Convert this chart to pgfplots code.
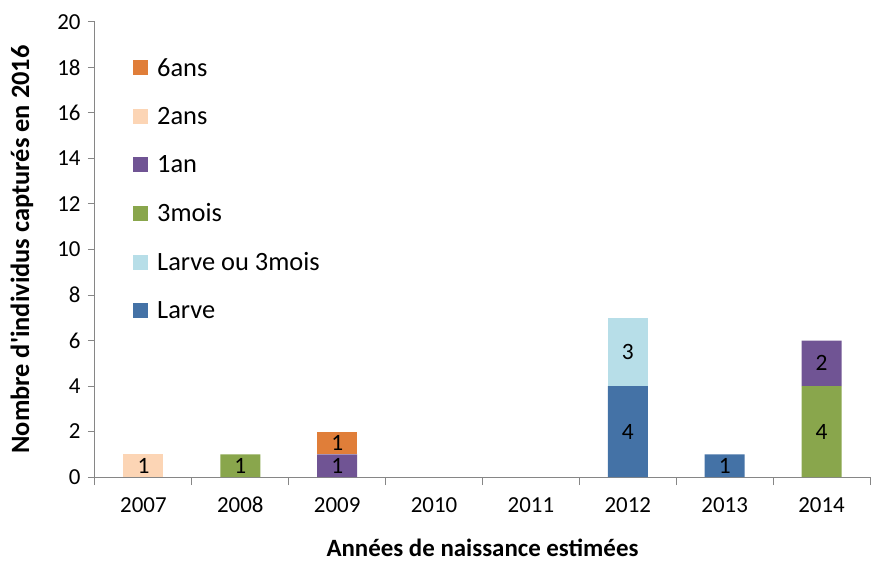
\documentclass[border=0pt]{standalone}
\usepackage{fontspec}
\setmainfont{Carlito}
\usepackage{pgfplots}
\pgfplotsset{compat=1.18}
\definecolor{cLarve}{RGB}{68,114,166}
\definecolor{cLarveou}{RGB}{183,222,232}
\definecolor{cTrois}{RGB}{137,166,76}
\definecolor{cUn}{RGB}{112,84,148}
\definecolor{cDeux}{RGB}{252,213,181}
\definecolor{cSix}{RGB}{224,126,57}
\definecolor{axisgray}{RGB}{134,134,134}
\begin{document}
\begin{tikzpicture}[font=\fontsize{23}{27}\selectfont]
\begin{axis}[
  name=ax, scale only axis, width=775bp, height=455bp,
  ybar stacked, bar width=40bp,
  xmin=-0.5, xmax=7.5, ymin=0, ymax=20,
  xtick={0,...,7}, xticklabels={2007,2008,2009,2010,2011,2012,2013,2014},
  major x tick style={draw=none},
  minor xtick={-0.5,0.5,1.5,2.5,3.5,4.5,5.5,6.5,7.5},
  ytick={0,2,...,20},
  axis lines=left,
  axis line style={-, draw=axisgray, line width=1bp},
  tick style={draw=axisgray, line width=1bp},
  tick align=outside,
  major tick length=7bp, minor tick length=8bp,
  /pgf/number format/assume math mode=true,
  tick label style={font=\fontsize{23}{27}\selectfont},
  xticklabel style={anchor=base, yshift=-28bp},
  yticklabel style={xshift=-4bp},
  ylabel={\bfseries Nombre d\textquotesingle individus capturés en 2016},
  ylabel style={at={([xshift=-73bp]rel axis cs:0,0.5)}, anchor=center, font=\fontsize{26.5}{30}\selectfont},
  xlabel={\bfseries Années de naissance estimées},
  xlabel style={at={([yshift=-71bp]rel axis cs:0.5,0)}, anchor=center, font=\fontsize{25}{29}\selectfont},
  legend style={draw=none, fill=none, inner sep=0pt, at={(rel axis cs:0.049,0.925)}, anchor=north west, row sep=25.5bp, font=\fontsize{26.5}{31}\selectfont},
  legend cell align=left,
  reverse legend,
  legend image code/.code={\fill[#1] (0bp,-7.5bp) rectangle (15bp,7.5bp); \path (22bp,0bp);},
]
\addplot[fill=cLarve, draw=none] coordinates {(0,0) (1,0) (2,0) (3,0) (4,0) (5,4) (6,1) (7,0)};
\addplot[fill=cLarveou, draw=none] coordinates {(0,0) (1,0) (2,0) (3,0) (4,0) (5,3) (6,0) (7,0)};
\addplot[fill=cTrois, draw=none] coordinates {(0,0) (1,1) (2,0) (3,0) (4,0) (5,0) (6,0) (7,4)};
\addplot[fill=cUn, draw=none] coordinates {(0,0) (1,0) (2,1) (3,0) (4,0) (5,0) (6,0) (7,2)};
\addplot[fill=cDeux, draw=none] coordinates {(0,1) (1,0) (2,0) (3,0) (4,0) (5,0) (6,0) (7,0)};
\addplot[fill=cSix, draw=none] coordinates {(0,0) (1,0) (2,1) (3,0) (4,0) (5,0) (6,0) (7,0)};
\legend{Larve, Larve ou 3mois, 3mois, 1an, 2ans, 6ans}
\end{axis}
\begin{axis}[
  scale only axis, width=775bp, height=455bp,
  at={(ax.south west)}, anchor=south west,
  xmin=-0.5, xmax=7.5, ymin=0, ymax=20,
  hide axis,
]
\addplot[only marks, mark=none, point meta=explicit symbolic,
  nodes near coords, every node near coord/.append style={anchor=center, text=black, inner sep=0pt, font=\fontsize{23.5}{27}\selectfont}]
  coordinates {(0,0.5)[1] (1,0.5)[1] (2,0.5)[1] (2,1.5)[1] (5,2)[4] (5,5.5)[3] (6,0.5)[1] (7,2)[4] (7,5)[2]};
\end{axis}
\path[use as bounding box] ([xshift=-95bp,yshift=-88bp]ax.south west) rectangle ([xshift=13bp,yshift=22bp]ax.north east);
\end{tikzpicture}
\end{document}
